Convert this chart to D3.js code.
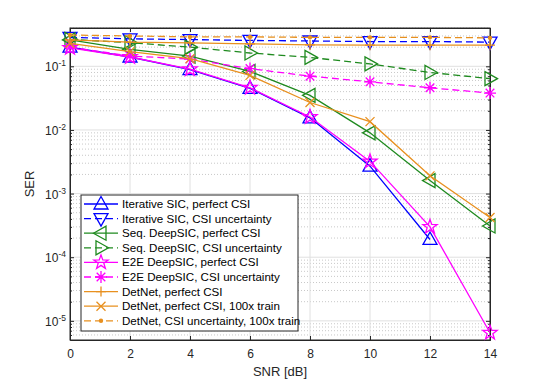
<!DOCTYPE html>
<html>
<head>
<meta charset="utf-8">
<script src="https://cdn.jsdelivr.net/npm/d3@7"></script>
<style>
  body { margin: 0; background: #fff; }
  svg { font-family: "Liberation Sans", Arial, sans-serif; }
</style>
</head>
<body>
<script>
const w = 540;
const h = 382;
const margin = {left: 70, right: 50, top: 28, bottom: 42};

const snr = [0, 2, 4, 6, 8, 10, 12, 14];
const xTicks = [0, 2, 4, 6, 8, 10, 12, 14];
const yDecades = [-5, -4, -3, -2, -1];

const iterPerfect = [0.2, 0.14, 0.089, 0.045, 0.0155, 0.0027, 0.00019];
const iterUncert = [0.285, 0.27, 0.263, 0.255, 0.25, 0.245, 0.245, 0.24];
const seqPerfect = [0.26, 0.185, 0.145, 0.083, 0.035, 0.009, 0.0016, 0.00031];
const seqUncert = [0.265, 0.235, 0.2, 0.162, 0.138, 0.109, 0.08, 0.064];
const e2ePerfect = [0.195, 0.14, 0.09, 0.046, 0.016, 0.0032, 0.0003, 0.0000065];
const e2eUncert = [0.2, 0.145, 0.13, 0.092, 0.07, 0.057, 0.046, 0.038];
const detPerfect = [0.26, 0.24, 0.233, 0.225, 0.217, 0.215, 0.215, 0.215];
const det100x = [0.23, 0.17, 0.132, 0.072, 0.027, 0.0135, 0.0019, 0.00042];
const detUncert = [0.31, 0.3, 0.29, 0.29, 0.285, 0.285, 0.285, 0.28];

const labels = ["Iterative SIC, perfect CSI", "Iterative SIC, CSI uncertainty",
  "Seq. DeepSIC, perfect CSI", "Seq. DeepSIC, CSI uncertainty",
  "E2E DeepSIC, perfect CSI", "E2E DeepSIC, CSI uncertainty",
  "DetNet, perfect CSI", "DetNet, perfect CSI, 100x train", "DetNet, CSI uncertainty, 100x train"];

const blue = "#0000ff", green = "#1f8a1f", magenta = "#ff00ff", orange = "#e8901f";

const series = [
  {vals: iterPerfect, color: blue, dash: null, marker: "triUp"},
  {vals: iterUncert, color: blue, dash: "7,4", marker: "triDown"},
  {vals: seqPerfect, color: green, dash: null, marker: "triLeft"},
  {vals: seqUncert, color: green, dash: "7,4", marker: "triRight"},
  {vals: e2ePerfect, color: magenta, dash: null, marker: "star"},
  {vals: e2eUncert, color: magenta, dash: "7,4", marker: "asterisk"},
  {vals: detPerfect, color: orange, dash: null, marker: "plus"},
  {vals: det100x, color: orange, dash: null, marker: "cross"},
  {vals: detUncert, color: orange, dash: "7,4", marker: "dot"}
];

function markerPath(type) {
  switch (type) {
    case "triUp": return "M0,-7.5L7,5L-7,5Z";
    case "triDown": return "M0,7.5L7,-5L-7,-5Z";
    case "triLeft": return "M-7.5,0L5,-7L5,7Z";
    case "triRight": return "M7.5,0L-5,-7L-5,7Z";
    case "star": {
      let p = "";
      for (let k = 0; k < 10; k++) {
        const r = k % 2 === 0 ? 7.5 : 3;
        const a = -Math.PI / 2 + k * Math.PI / 5;
        p += (k === 0 ? "M" : "L") + (r * Math.cos(a)).toFixed(2) + "," + (r * Math.sin(a)).toFixed(2);
      }
      return p + "Z";
    }
    case "asterisk": return "M0,-6L0,6M-6,0L6,0M-4.3,-4.3L4.3,4.3M-4.3,4.3L4.3,-4.3";
    case "plus": return "M0,-5L0,5M-5,0L5,0";
    case "cross": return "M-4.5,-4.5L4.5,4.5M-4.5,4.5L4.5,-4.5";
    default: return "";
  }
}

const svg = d3.select("body").append("svg").attr("width", w).attr("height", h);

const xScale = d3.scaleLinear().domain([0, 14]).range([margin.left, w - margin.right]);
const yScale = d3.scaleLog().domain([5e-6, 0.4]).range([h - margin.bottom, margin.top]);

const x0 = margin.left, x1 = w - margin.right, y0 = h - margin.bottom, y1 = margin.top;

// minor grid (dotted) on log axis
const minorVals = [];
for (let e = -6; e <= -1; e++) {
  for (let m = 2; m <= 9; m++) {
    const v = m * Math.pow(10, e);
    if (v >= 5e-6 && v <= 0.4) minorVals.push(v);
  }
}
svg.append("g").selectAll("line").data(minorVals).enter().append("line")
  .attr("x1", x0).attr("x2", x1)
  .attr("y1", d => yScale(d)).attr("y2", d => yScale(d))
  .attr("stroke", "#c8c8c8").attr("stroke-width", 1).attr("stroke-dasharray", "1,2");

// major grid
svg.append("g").selectAll("line").data(yDecades).enter().append("line")
  .attr("x1", x0).attr("x2", x1)
  .attr("y1", d => yScale(Math.pow(10, d))).attr("y2", d => yScale(Math.pow(10, d)))
  .attr("stroke", "#e0e0e0").attr("stroke-width", 1);
svg.append("g").selectAll("line").data(xTicks.slice(1, -1)).enter().append("line")
  .attr("x1", d => xScale(d)).attr("x2", d => xScale(d))
  .attr("y1", y0).attr("y2", y1)
  .attr("stroke", "#e0e0e0").attr("stroke-width", 1);

// axes with inward ticks
const xAxisB = d3.axisBottom(xScale).tickValues(xTicks).tickSizeInner(-4).tickSizeOuter(0).tickPadding(9);
const gx = svg.append("g").attr("transform", "translate(0," + y0 + ")").call(xAxisB);
gx.selectAll("text").style("font-size", "12px").attr("fill", "#262626");
const gxt = svg.append("g").attr("transform", "translate(0," + y1 + ")")
  .call(d3.axisTop(xScale).tickValues(xTicks).tickSizeInner(-4).tickSizeOuter(0).tickFormat(""));

const yAxisL = d3.axisLeft(yScale).tickValues(yDecades.map(d => Math.pow(10, d)))
  .tickSizeInner(-4).tickSizeOuter(0).tickPadding(6).tickFormat("");
const gy = svg.append("g").attr("transform", "translate(" + x0 + ",0)").call(yAxisL);
const gyr = svg.append("g").attr("transform", "translate(" + x1 + ",0)")
  .call(d3.axisRight(yScale).tickValues(yDecades.map(d => Math.pow(10, d))).tickSizeInner(-4).tickSizeOuter(0).tickFormat(""));

// minor ticks
svg.append("g").attr("transform", "translate(" + x0 + ",0)")
  .call(d3.axisLeft(yScale).tickValues(minorVals).tickSizeInner(-2).tickSizeOuter(0).tickFormat(""));
svg.append("g").attr("transform", "translate(" + x1 + ",0)")
  .call(d3.axisRight(yScale).tickValues(minorVals).tickSizeInner(-2).tickSizeOuter(0).tickFormat(""));

svg.selectAll(".domain").attr("stroke", "#262626");
svg.selectAll(".tick line").attr("stroke", "#262626");

// y tick labels 10^k
const ylab = svg.append("g").selectAll("text").data(yDecades).enter().append("text")
  .attr("x", x0 - 4).attr("y", d => yScale(Math.pow(10, d)) + 5)
  .attr("text-anchor", "end").attr("fill", "#262626").style("font-size", "12px");
ylab.append("tspan").text("10");
ylab.append("tspan").attr("dy", -5).style("font-size", "8.5px").text(d => "-" + (-d));

// box
svg.append("rect").attr("x", x0).attr("y", y1).attr("width", x1 - x0).attr("height", y0 - y1)
  .attr("fill", "none").attr("stroke", "#262626").attr("stroke-width", 1);

// axis labels
svg.append("text").attr("x", (x0 + x1) / 2).attr("y", 376).attr("text-anchor", "middle")
  .attr("fill", "#262626").style("font-size", "13px").text("SNR [dB]");
svg.append("text").attr("transform", "translate(34," + ((y0 + y1) / 2) + ") rotate(-90)")
  .attr("text-anchor", "middle").attr("fill", "#262626").style("font-size", "13px").text("SER");

// series
const line = d3.line().x(d => xScale(d.x)).y(d => yScale(d.y));
series.forEach(s => {
  const pts = s.vals.map((v, i) => ({x: snr[i], y: v}));
  svg.append("path").datum(pts).attr("d", line)
    .attr("fill", "none").attr("stroke", s.color).attr("stroke-width", 1.3)
    .attr("stroke-dasharray", s.dash);
  const g = svg.append("g");
  if (s.marker === "dot") {
    g.selectAll("circle").data(pts).enter().append("circle")
      .attr("cx", d => xScale(d.x)).attr("cy", d => yScale(d.y)).attr("r", 2.2)
      .attr("fill", s.color);
  } else {
    g.selectAll("path").data(pts).enter().append("path")
      .attr("transform", d => "translate(" + xScale(d.x) + "," + yScale(d.y) + ")")
      .attr("d", markerPath(s.marker)).attr("fill", "none")
      .attr("stroke", s.color).attr("stroke-width", 1.3);
  }
});

// legend
const lg = svg.append("g");
lg.append("rect").attr("x", 81).attr("y", 195).attr("width", 217).attr("height", 136)
  .attr("fill", "#fff").attr("stroke", "#262626").attr("stroke-width", 1);
const rows = lg.selectAll(".legends").data(series).enter().append("g")
  .attr("transform", (d, i) => "translate(0," + (204 + i * 14.6) + ")");
rows.append("line").attr("x1", 84).attr("x2", 118).attr("y1", 0).attr("y2", 0)
  .attr("stroke", d => d.color).attr("stroke-width", 1.3).attr("stroke-dasharray", d => d.dash);
rows.each(function(d) {
  const r = d3.select(this);
  if (d.marker === "dot") {
    r.append("circle").attr("cx", 101).attr("cy", 0).attr("r", 2.2).attr("fill", d.color);
  } else {
    r.append("path").attr("transform", "translate(101,0)").attr("d", markerPath(d.marker))
      .attr("fill", "none").attr("stroke", d.color).attr("stroke-width", 1.3);
  }
});
rows.append("text").attr("x", 122).attr("y", 4).attr("fill", "#000").style("font-size", "11.6px")
  .text((d, i) => labels[i]);
</script>
</body>
</html>
